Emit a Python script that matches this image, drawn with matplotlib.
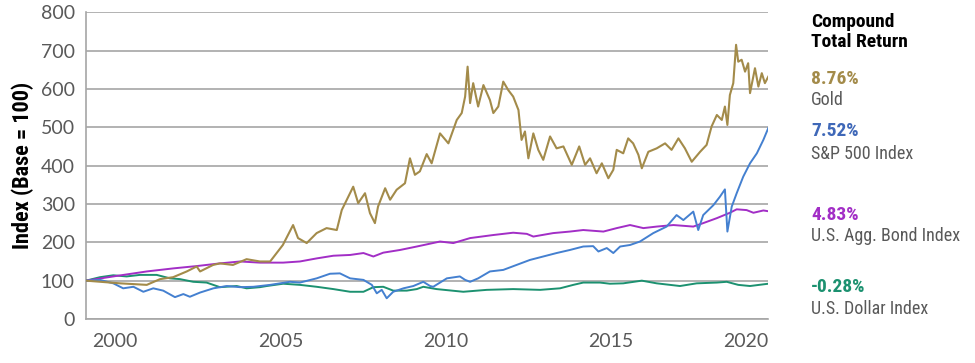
import matplotlib
matplotlib.use("Agg")
import matplotlib.pyplot as plt
from matplotlib import font_manager

installed = set(f.name for f in font_manager.fontManager.ttflist)
narrow = next((f for f in ['Roboto Condensed', 'PT Sans Narrow', 'Open Sans Condensed',
                           'Fira Sans Condensed', 'Lato'] if f in installed), 'DejaVu Sans')
plt.rcParams['font.family'] = ['Lato', 'DejaVu Sans']

# values (index, base = 100), x in decimal years
gold_x = [1999.00, 2000.10, 2000.96, 2001.39, 2001.81, 2002.25, 2002.57, 2002.68, 2003.10,
          2003.32, 2003.74, 2004.18, 2004.61, 2004.94, 2005.35, 2005.68, 2005.84, 2006.12,
          2006.44, 2006.76, 2007.09, 2007.25, 2007.62, 2007.78, 2008.00, 2008.16, 2008.32,
          2008.42, 2008.65, 2008.81, 2009.02, 2009.29, 2009.45, 2009.61, 2009.77, 2009.99,
          2010.15, 2010.42, 2010.69, 2010.96, 2011.12, 2011.23, 2011.31, 2011.39, 2011.49,
          2011.65, 2011.82, 2012.03, 2012.14, 2012.30, 2012.46, 2012.62, 2012.78, 2012.95,
          2013.05, 2013.16, 2013.27, 2013.43, 2013.59, 2013.75, 2013.97, 2014.18, 2014.40,
          2014.67, 2014.91, 2015.10, 2015.26, 2015.47, 2015.64, 2015.85, 2016.01, 2016.12,
          2016.33, 2016.49, 2016.65, 2016.82, 2016.93, 2017.14, 2017.41, 2017.68, 2017.89,
          2018.11, 2018.32, 2018.54, 2018.81, 2019.02, 2019.18, 2019.35, 2019.51, 2019.61,
          2019.69, 2019.77, 2019.88, 2019.97, 2020.04, 2020.15, 2020.26, 2020.36, 2020.42,
          2020.58, 2020.69, 2020.80, 2020.90, 2021.01]
gold = [100, 93, 89, 104, 109, 124, 137, 124, 141,
        145, 141, 156, 150, 150, 193, 245, 211, 198,
        224, 237, 232, 284, 345, 302, 328, 276, 250,
        293, 341, 311, 337, 354, 419, 376, 385, 430,
        406, 484, 458, 519, 537, 580, 658, 563, 615,
        554, 610, 571, 537, 554, 619, 597, 580, 545,
        467, 489, 419, 484, 441, 415, 476, 445, 450,
        402, 450, 402, 419, 380, 406, 367, 389, 441,
        432, 471, 458, 428, 393, 436, 445, 458, 441,
        471, 445, 410, 436, 454, 502, 532, 519, 554,
        506, 584, 615, 715, 671, 676, 645, 667, 589,
        654, 606, 641, 615, 632]

sp_x = [1999.00, 1999.45, 1999.88, 2000.20, 2000.53, 2000.85, 2001.17, 2001.49, 2001.87,
        2002.14, 2002.35, 2002.68, 2003.11, 2003.54, 2003.97, 2004.40, 2004.94, 2005.58,
        2005.90, 2006.44, 2006.87, 2007.19, 2007.52, 2007.95, 2008.22, 2008.38, 2008.54,
        2008.70, 2008.91, 2009.24, 2009.56, 2009.88, 2010.10, 2010.20, 2010.64, 2011.06,
        2011.23, 2011.39, 2011.65, 2012.03, 2012.46, 2012.89, 2013.32, 2013.75, 2014.18,
        2014.61, 2015.04, 2015.36, 2015.53, 2015.80, 2016.01, 2016.23, 2016.55, 2016.87,
        2017.30, 2017.73, 2018.05, 2018.27, 2018.59, 2018.75, 2018.91, 2019.24, 2019.45,
        2019.61, 2019.69, 2019.83, 2019.99, 2020.20, 2020.42, 2020.64, 2020.85, 2021.01]
sp500 = [100, 102, 93, 80, 84, 71, 80, 74, 57,
         65, 58, 69, 80, 86, 83, 84, 89, 97,
         95, 106, 118, 119, 106, 102, 89, 67, 76,
         54, 71, 80, 86, 97, 86, 84, 106, 111,
         102, 97, 106, 124, 128, 141, 154, 163, 172,
         180, 189, 190, 176, 185, 172, 189, 193, 202,
         224, 241, 271, 258, 280, 232, 271, 297, 319,
         338, 228, 293, 328, 371, 406, 432, 467, 498]

bond_x = [1999.00, 1999.88, 2000.96, 2001.82, 2002.57, 2003.32, 2003.97, 2004.61, 2005.36,
          2005.90, 2006.44, 2006.98, 2007.52, 2007.95, 2008.27, 2008.59, 2009.13, 2009.67,
          2010.42, 2010.85, 2011.39, 2012.14, 2012.78, 2013.22, 2013.43, 2014.07, 2014.61,
          2015.04, 2015.69, 2016.12, 2016.55, 2016.98, 2017.41, 2017.95, 2018.59, 2018.91,
          2019.35, 2019.77, 2019.99, 2020.31, 2020.53, 2020.85, 2021.01]
bond = [100, 111, 124, 132, 138, 145, 150, 147, 147,
        150, 158, 165, 167, 172, 163, 173, 180, 189,
        202, 198, 211, 219, 225, 222, 215, 224, 228,
        232, 228, 237, 245, 237, 241, 245, 241, 250,
        263, 277, 286, 284, 277, 283, 281]

usd_x = [1999.00, 1999.45, 1999.88, 2000.31, 2000.74, 2001.28, 2001.71, 2002.03, 2002.46,
         2002.89, 2003.32, 2003.86, 2004.18, 2004.61, 2004.83, 2005.36, 2005.90, 2006.44,
         2006.98, 2007.52, 2007.95, 2008.27, 2008.59, 2008.91, 2009.35, 2009.67, 2009.88,
         2010.31, 2011.17, 2011.93, 2012.78, 2013.65, 2014.29, 2014.72, 2015.04, 2015.58,
         2015.90, 2016.33, 2016.93, 2017.41, 2018.16, 2018.70, 2019.35, 2019.67, 2020.04,
         2020.42, 2021.01]
usd = [100, 109, 114, 111, 115, 115, 106, 104, 97,
       95, 83, 86, 80, 83, 86, 92, 89, 84,
       78, 71, 71, 83, 84, 74, 74, 78, 84,
       78, 71, 76, 78, 76, 80, 89, 95, 95,
       92, 93, 100, 93, 86, 93, 95, 97, 89,
       86, 92]

year_labels = ['2000', '2005', '2010', '2015', '2020']
year_pos = [1999.94, 2005.29, 2010.61, 2015.94, 2020.29]

returns = ['8.76%', '7.52%', '4.83%', '-0.28%']
names = ['Gold', 'S&P 500 Index', 'U.S. Agg. Bond Index', 'U.S. Dollar Index']

c_gold = '#A38B4A'
c_sp = '#4480D0'
c_bond = '#A22EC6'
c_usd = '#1C9170'
colors = [c_gold, '#3F68B8', c_bond, c_usd]
grey = '#595959'

fig = plt.figure(figsize=(9.75, 3.63), dpi=100)
ax = fig.add_axes([86 / 975, 1 - 319 / 363, 682 / 975, 306.8 / 363])

ax.plot(usd_x, usd, color=c_usd, lw=1.4, zorder=3)
ax.plot(bond_x, bond, color=c_bond, lw=1.4, zorder=4)
ax.plot(sp_x, sp500, color=c_sp, lw=1.4, zorder=5)
ax.plot(gold_x, gold, color=c_gold, lw=1.5, zorder=6)

ax.set_xlim(1999.0, 2021.0)
ax.set_ylim(0, 800)
ax.set_yticks(range(0, 801, 100))
ax.set_xticks(year_pos)
ax.set_xticklabels(year_labels)
ax.grid(axis='y', color='#A6A6A6', lw=1.2)
ax.set_axisbelow(True)
for s in ['top', 'right']:
    ax.spines[s].set_visible(False)
ax.spines['left'].set_color('#A6A6A6')
ax.spines['bottom'].set_color('#A6A6A6')
ax.spines['left'].set_linewidth(1.2)
ax.spines['bottom'].set_linewidth(1.2)
ax.tick_params(length=0, labelsize=14, labelcolor=grey, pad=10)
ax.tick_params(axis='y', pad=8)
ax.set_ylabel('Index (Base = 100)', fontsize=16, fontweight='bold', color='black',
              labelpad=5, family=[narrow, 'DejaVu Sans'])

tx = 811 / 975
fig.text(tx, 1 - 13 / 363, 'Compound\nTotal Return', fontsize=14, fontweight='bold',
         color='black', va='top', linespacing=1.15, family=[narrow, 'DejaVu Sans'])
val_y = [79, 131, 215, 287]
name_y = [100, 154, 236, 309]
for r, n, c, yv, yn in zip(returns, names, colors, val_y, name_y):
    fig.text(tx, 1 - yv / 363, r, fontsize=14, fontweight='bold', color=c, va='center',
             family=[narrow, 'DejaVu Sans'])
    fig.text(tx, 1 - yn / 363, n, fontsize=13, color=grey, va='center',
             family=[narrow, 'DejaVu Sans'])

fig.savefig('out.png', dpi=100)
